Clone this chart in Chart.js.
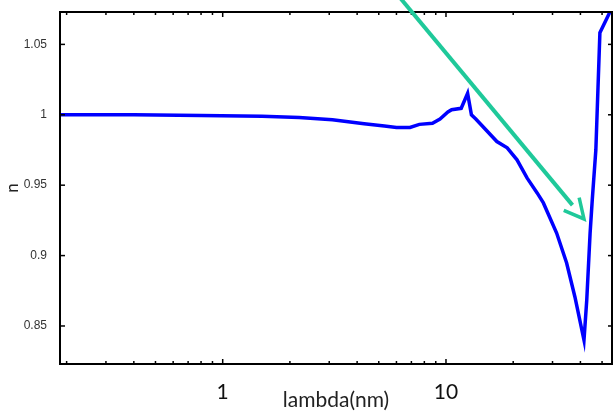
<!DOCTYPE html>
<html>
<head>
<meta charset="utf-8">
<script src="https://cdn.jsdelivr.net/npm/chart.js@4"></script>
<style>
  html, body { margin: 0; padding: 0; background: #fff; }
  canvas { display: block; }
</style>
</head>
<body>
<canvas id="nChart" width="613" height="411"></canvas>
<script>
// Refractive index n vs wavelength (nm)
const lambdaNm = [0.187, 0.4, 0.8, 1.5, 2.2, 3.1, 4.3, 5.3, 6.0, 6.9, 7.6, 8.7, 9.4, 10.2, 10.6, 11.7, 12.5, 13.0, 13.6,
    16.9, 18.8, 20.8, 23.1, 25.6, 27.3, 31.3, 34.7, 37.8, 41.5, 42.7, 44.2, 45.2, 46.9, 48.9, 55.0];
const nValues = [1.0, 1.0, 0.9995, 0.999, 0.998, 0.9965, 0.9936, 0.992, 0.991, 0.991, 0.9932, 0.994, 0.997, 1.002, 1.0036, 1.0046, 1.0152, 1.0, 0.997,
    0.981, 0.9765, 0.968, 0.955, 0.9445, 0.9374, 0.916, 0.8947, 0.8706, 0.84, 0.8684, 0.916, 0.9395, 0.975, 1.0583, 1.075];

// axes
const xRange = [0.1868, 55.4];
const yRange = [0.823, 1.073];
const xTickValues = [0.2, 0.3, 0.4, 0.5, 0.6, 0.7, 0.8, 0.9, 1, 2, 3, 4, 5, 6, 7, 8, 9, 10, 20, 30, 40, 50];
const xTickLabels = [1, 10];
const yTickValues = [0.85, 0.9, 0.95, 1, 1.05];

// green annotation arrow (data coords)
const arrowFrom = [5.8, 1.089];
const arrowTo = [41.5, 0.926];

const points = lambdaNm.map((l, i) => ({ x: l, y: nValues[i] }));

// frame, inward ticks and the arrow
const framePlugin = {
    id: 'frame',
    afterDatasetsDraw(chart) {
        const { ctx, chartArea: a, scales: { x, y } } = chart;
        ctx.save();
        ctx.strokeStyle = '#000';
        ctx.lineWidth = 1.5;
        const seg = (x1, y1, x2, y2) => {
            ctx.beginPath();
            ctx.moveTo(x1, y1);
            ctx.lineTo(x2, y2);
            ctx.stroke();
        };
        xTickValues.forEach(v => {
            const px = x.getPixelForValue(v);
            const len = xTickLabels.includes(v) ? 5 : 3;
            seg(px, a.bottom, px, a.bottom - len);
            seg(px, a.top, px, a.top + len);
        });
        yTickValues.forEach(v => {
            const py = y.getPixelForValue(v);
            seg(a.left, py, a.left + 5, py);
            seg(a.right, py, a.right - 4, py);
        });
        ctx.lineWidth = 2;
        ctx.strokeRect(a.left, a.top, a.right - a.left, a.bottom - a.top);

        // arrow
        const x1 = x.getPixelForValue(arrowFrom[0]), y1 = y.getPixelForValue(arrowFrom[1]);
        const x2 = x.getPixelForValue(arrowTo[0]), y2 = y.getPixelForValue(arrowTo[1]);
        const ang = Math.atan2(y2 - y1, x2 - x1);
        const headLen = 22, spread = 27 * Math.PI / 180, gap = 18;
        ctx.strokeStyle = '#1fc99a';
        ctx.lineWidth = 4;
        seg(x1, y1, x2 - gap * Math.cos(ang), y2 - gap * Math.sin(ang));
        ctx.lineWidth = 3.5;
        ctx.beginPath();
        ctx.moveTo(x2 - headLen * Math.cos(ang - spread), y2 - headLen * Math.sin(ang - spread));
        ctx.lineTo(x2, y2);
        ctx.lineTo(x2 - headLen * Math.cos(ang + spread), y2 - headLen * Math.sin(ang + spread));
        ctx.stroke();
        ctx.restore();
    }
};

function noPad(axis) {
    axis.paddingTop = 0;
    axis.paddingBottom = 0;
    axis.paddingLeft = 0;
    axis.paddingRight = 0;
}

new Chart(document.getElementById('nChart'), {
    type: 'line',
    data: {
        datasets: [{
            label: 'n',
            data: points,
            borderColor: '#0000ff',
            borderWidth: 3.5,
            pointRadius: 0,
            tension: 0,
            fill: false
        }]
    },
    options: {
        responsive: false,
        animation: false,
        devicePixelRatio: 1,
        layout: {
            padding: { top: 12, right: 1, bottom: 0, left: 0 }
        },
        plugins: {
            legend: { display: false },
            tooltip: { enabled: false }
        },
        scales: {
            x: {
                type: 'logarithmic',
                min: xRange[0],
                max: xRange[1],
                grid: { display: false },
                border: { display: false },
                afterBuildTicks: axis => {
                    axis.ticks = xTickValues.map(v => ({ value: v, major: xTickLabels.includes(v) }));
                },
                afterFit: axis => {
                    axis.height = 47;
                    noPad(axis);
                },
                ticks: {
                    autoSkip: false,
                    maxRotation: 0,
                    padding: 8,
                    color: '#111',
                    font: { family: 'Lato', size: 21 },
                    callback: v => xTickLabels.includes(v) ? String(v) : ''
                },
                title: {
                    display: true,
                    text: 'lambda(nm)',
                    color: '#222',
                    font: { family: 'Lato', size: 21 },
                    padding: { top: 0, bottom: -2 }
                }
            },
            y: {
                min: yRange[0],
                max: yRange[1],
                grid: { display: false },
                border: { display: false },
                afterBuildTicks: axis => {
                    axis.ticks = yTickValues.map(v => ({ value: v }));
                },
                afterFit: axis => {
                    axis.width = 60;
                    noPad(axis);
                },
                ticks: {
                    padding: 5,
                    color: '#333',
                    font: { family: 'Liberation Sans', size: 12 },
                    callback: v => String(+v.toFixed(2))
                },
                title: {
                    display: true,
                    text: 'n',
                    color: '#222',
                    font: { family: 'Lato', size: 17 },
                    padding: { top: 2, bottom: 0 }
                }
            }
        }
    },
    plugins: [framePlugin]
});
</script>
</body>
</html>
